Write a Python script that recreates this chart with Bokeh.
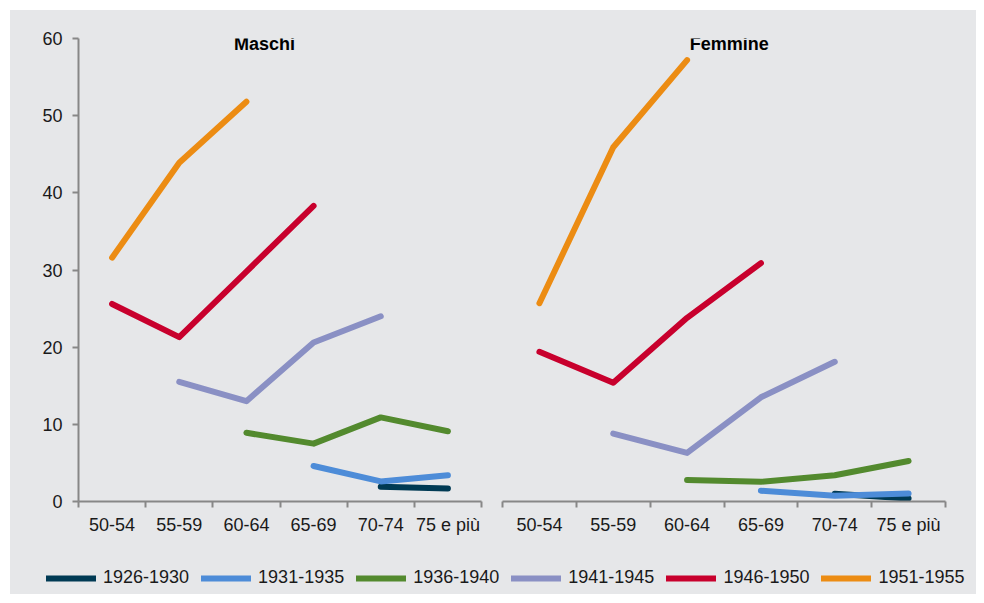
from bokeh.plotting import figure
from bokeh.models import (Range1d, FixedTicker, LinearAxis, Legend, LegendItem)
from bokeh.core.properties import value
from bokeh.layouts import column, row
from bokeh.embed import file_html
from bokeh.resources import INLINE

# ---------------- data ----------------
categories = ["50-54", "55-59", "60-64", "65-69", "70-74", "75 e più"]
cohorts = ["1926-1930", "1931-1935", "1936-1940", "1941-1945", "1946-1950", "1951-1955"]

maschi_1926_1930 = [None, None, None, None, 1.9, 1.7]
maschi_1931_1935 = [None, None, None, 4.6, 2.6, 3.4]
maschi_1936_1940 = [None, None, 8.9, 7.5, 10.9, 9.1]
maschi_1941_1945 = [None, 15.5, 13.0, 20.6, 24.0, None]
maschi_1946_1950 = [25.6, 21.3, 29.8, 38.3, None, None]
maschi_1951_1955 = [31.6, 43.9, 51.8, None, None, None]

femmine_1926_1930 = [None, None, None, None, 1.0, 0.4]
femmine_1931_1935 = [None, None, None, 1.4, 0.75, 1.05]
femmine_1936_1940 = [None, None, 2.8, 2.55, 3.4, 5.25]
femmine_1941_1945 = [None, 8.8, 6.3, 13.5, 18.1, None]
femmine_1946_1950 = [19.4, 15.4, 23.8, 30.9, None, None]
femmine_1951_1955 = [25.7, 45.9, 57.2, None, None, None]

y_ticks = [0, 10, 20, 30, 40, 50, 60]

maschi = [maschi_1926_1930, maschi_1931_1935, maschi_1936_1940,
          maschi_1941_1945, maschi_1946_1950, maschi_1951_1955]
femmine = [femmine_1926_1930, femmine_1931_1935, femmine_1936_1940,
           femmine_1941_1945, femmine_1946_1950, femmine_1951_1955]

# ---------------- style ----------------
colors = ["#003a54", "#4d8cd8", "#538a2e", "#8a90c4", "#c8002d", "#ec8c13"]
BG = "#e6e7e9"
AXIS = "#878787"
TXT = "#1a1a1a"
FONT = "Liberation Sans"
LW = 6

n = len(categories)
centers = [i + 0.5 for i in range(n)]


def make_panel(title, series, show_y, width, mb_left, mb_right, title_x):
    p = figure(x_range=Range1d(0, n), y_range=Range1d(0, 60),
               width=width, height=529,
               min_border_left=mb_left, min_border_right=mb_right,
               min_border_top=28, min_border_bottom=38,
               x_axis_location=None, y_axis_location="left" if show_y else None,
               output_backend="svg", toolbar_location=None)
    p.background_fill_color = BG
    p.border_fill_color = BG
    p.outline_line_color = None
    p.xgrid.visible = False
    p.ygrid.visible = False

    if show_y:
        ya = p.yaxis[0]
        ya.ticker = FixedTicker(ticks=y_ticks)
        ya.axis_line_color = AXIS
        ya.axis_line_width = 2
        ya.major_tick_line_color = AXIS
        ya.major_tick_line_width = 2
        ya.major_tick_in = 0
        ya.major_tick_out = 6
        ya.minor_tick_line_color = None
        ya.major_label_text_font_size = "18px"
        ya.major_label_text_font = FONT
        ya.major_label_text_color = TXT
        ya.major_label_standoff = 10

    # boundary ticks (inner axis, no labels)
    tick_axis = LinearAxis(ticker=FixedTicker(ticks=list(range(n + 1))),
                           major_label_text_font_size="0px", major_label_text_alpha=0,
                           major_label_standoff=0,
                           axis_line_color=AXIS, axis_line_width=2,
                           major_tick_line_color=AXIS, major_tick_line_width=2,
                           major_tick_in=0, major_tick_out=6,
                           minor_tick_line_color=None)
    p.add_layout(tick_axis, "below")
    # category labels (outer axis, no line / ticks)
    cat_axis = LinearAxis(ticker=FixedTicker(ticks=centers),
                          major_label_overrides={c: lab for c, lab in zip(centers, categories)},
                          axis_line_color=None, major_tick_line_color=None,
                          minor_tick_line_color=None,
                          major_label_text_font_size="18px",
                          major_label_text_font=FONT,
                          major_label_text_color=TXT,
                          major_label_standoff=1)
    p.add_layout(cat_axis, "below")

    for vals, c in zip(series, colors):
        xs = [x for x, v in zip(centers, vals) if v is not None]
        ys = [v for v in vals if v is not None]
        p.line(xs, ys, line_color=c, line_width=LW, line_cap="round", line_join="round")

    p.text(x=[title_x], y=[59.3], text=[title], text_font=value(FONT),
           text_font_style="bold", text_font_size="18px", text_align="center",
           text_baseline="middle", text_color="#000000")
    return p


left = make_panel("Maschi", maschi, True, 481, 68, 10, 2.77)
right = make_panel("Femmine", femmine, False, 485, 11, 31, 3.07)

# ---------------- legend ----------------
lf = figure(width=966, height=55, x_range=Range1d(0, 1), y_range=Range1d(0, 1),
            min_border=0, x_axis_location=None, y_axis_location=None,
            output_backend="svg", toolbar_location=None)
lf.background_fill_color = BG
lf.border_fill_color = BG
lf.outline_line_color = None
lf.xgrid.visible = False
lf.ygrid.visible = False
items = []
for name, c in zip(cohorts, colors):
    # a single undefined point: nothing is drawn in the plot, only the legend swatch
    r = lf.line([float("nan")], [float("nan")], line_color=c, line_width=LW, line_cap="round")
    items.append(LegendItem(label=name, renderers=[r]))
legend = Legend(items=items, orientation="horizontal", location=(36, 6),
                glyph_width=50, glyph_height=20, label_standoff=7, spacing=12,
                padding=0, margin=0, border_line_color=None, background_fill_alpha=0,
                label_text_font_size="18px", label_text_font=FONT, label_text_color=TXT)
lf.add_layout(legend)

layout = column(row(left, right, styles={"background-color": BG}), lf,
                margin=(10, 0, 0, 10), styles={"background-color": BG})

open("out.html", "w").write(file_html(layout, INLINE))
